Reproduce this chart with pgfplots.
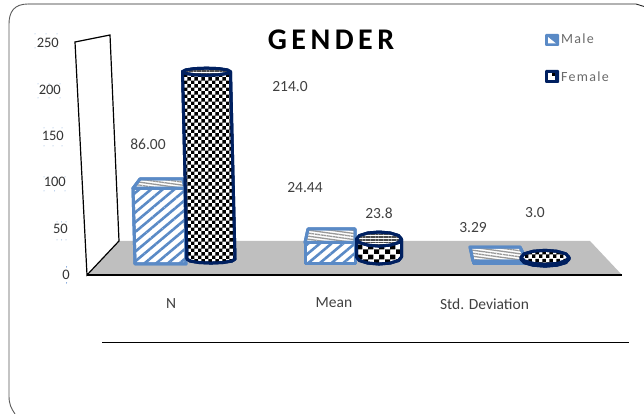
\documentclass[border=0pt]{standalone}
\usepackage{pgfplots}
\pgfplotsset{compat=1.18}
\usepackage{fontspec}
\setmainfont{Carlito}
\newfontfamily\titlefont[LetterSpace=15]{Carlito}
\newfontfamily\legendfont[LetterSpace=9]{Carlito}
\usetikzlibrary{patterns,patterns.meta}

\definecolor{maleblue}{HTML}{5A8AC6}
\definecolor{femalenavy}{HTML}{002060}
\definecolor{floorgray}{HTML}{BFBFBF}
\definecolor{legendgray}{HTML}{6A6A6A}
\definecolor{handleblue}{HTML}{7FA5DA}

% checker textures for the cylinders, fine and coarse
\pgfdeclarepatternformonly{fine check}{\pgfqpoint{0pt}{0pt}}{\pgfqpoint{7.4pt}{7.4pt}}{\pgfqpoint{7.4pt}{7.4pt}}{%
  \pgfpathrectangle{\pgfqpoint{0pt}{0pt}}{\pgfqpoint{3.7pt}{3.7pt}}%
  \pgfpathrectangle{\pgfqpoint{3.7pt}{3.7pt}}{\pgfqpoint{3.7pt}{3.7pt}}%
  \pgfusepath{fill}}
\pgfdeclarepatternformonly{coarse check}{\pgfqpoint{0pt}{0pt}}{\pgfqpoint{11pt}{10pt}}{\pgfqpoint{11pt}{10pt}}{%
  \pgfpathrectangle{\pgfqpoint{0pt}{0pt}}{\pgfqpoint{5.5pt}{5pt}}%
  \pgfpathrectangle{\pgfqpoint{5.5pt}{5pt}}{\pgfqpoint{5.5pt}{5pt}}%
  \pgfusepath{fill}}

\tikzset{
  hatch front/.style={draw=maleblue,line width=3pt,line join=round,
    preaction={fill=white},
    pattern={Lines[angle=40,distance=7.5pt,line width=2.6pt]},pattern color=maleblue},
  hatch top/.style={draw=maleblue,line width=3pt,line join=round,
    preaction={fill=white},
    pattern={Lines[angle=-8,distance=3pt,line width=1.3pt]},pattern color=black!40},
  check body/.style={draw=femalenavy,line width=3pt,line join=round,
    preaction={fill=white},pattern=fine check,pattern color=black},
  check body coarse/.style={check body,pattern=coarse check},
  check lid/.style={draw=femalenavy,line width=3pt,line join=round,
    preaction={fill=white},
    pattern={Lines[angle=0,distance=2.6pt,line width=1.6pt]},pattern color=black!70},
  px/.style={x=1pt,y=-1pt,shift={(0pt,414pt)}},
}
\pgfplotsset{
  flat layer/.style={at={(0pt,0pt)},anchor=south west,scale only axis,
    width=644pt,height=414pt,xmin=0,xmax=644,hide axis,clip=false},
}

\begin{document}
\begin{tikzpicture}[x=1pt,y=1pt]
\path[use as bounding box] (0pt,0pt) rectangle (644pt,414pt);

% rounded outer frame and chart furniture, in picture coordinates
\begin{scope}[px]
  \draw[black!65,line width=0.9pt] (15,414) .. controls (11,408) and (9,404) .. (9,396)
     -- (9,24) .. controls (9,12) and (14,4) .. (28,4);
  \draw[black!85,line width=0.9pt] (28,4) -- (636,4) -- (644,6.5);
  \fill[floorgray] (87,275) -- (119,241) -- (590,241) -- (622,275) -- cycle;
  \draw[black,line width=1.2pt,fill=white,line join=miter]
     (87,275) -- (75,42) -- (110,35) -- (119,241) -- cycle;
  \draw[black,line width=1.2pt] (87,275) -- (622,275);
  \draw[black,line width=0.9pt] (102,342) -- (629,342);
  % selection handles around the tick numbers
  \foreach \l/\r/\t/\b in {35/57/34/48,38/60/84/98,44/62/128/146,44/65/177/191,57/66/222/240,66.5/66.5/267/283}{
    \pgfmathsetmacro\m{(\l+\r)/2}
    \foreach \u in {\l,\m,\r}{
      \fill[handleblue] (\u,\t) circle (0.5);
      \fill[handleblue] (\u,\b) circle (0.5);
    }
  }
\end{scope}

% value axis standing in front of the back wall
\begin{axis}[at={(70pt,139pt)},anchor=south west,scale only axis,width=10pt,height=232pt,
    ymin=0,ymax=250,xmin=0,xmax=1,
    hide x axis,axis y line*=left,y axis line style={draw=none},
    major tick length=0pt,
    ytick={0,50,100,150,200,250},
    yticklabels={0\kern0pt,50\kern2pt,100\kern4pt,150\kern6pt,200\kern9pt,250\kern11pt},
    yticklabel style={font=\fontsize{14.5}{16}\selectfont,text=black!80,inner sep=0pt}]
\addplot[draw=none] coordinates {(0,0) (1,250)};
\end{axis}

% Male: boxes standing on the front edge
\begin{axis}[flat layer,ymin=-170.4545,ymax=300]
\addplot[hatch top] coordinates {(133,86) (185,86) (183,96.6) (140,96.6)} -- cycle;
\addplot[hatch front] coordinates {(135,0) (186,0) (185,86) (133,86)} -- cycle;
\addplot[hatch top] coordinates {(305,24.44) (355,24.44) (355,39.8) (308,39.8)} -- cycle;
\addplot[hatch front] coordinates {(305,0) (355,0) (355,24.44) (305,24.44)} -- cycle;
\addplot[hatch top] coordinates {(473,3.29) (527,3.29) (520,19.3) (470,19.3)} -- cycle;
\addplot[hatch front] coordinates {(473,0) (527,0) (527,3.29) (473,3.29)} -- cycle;
\end{axis}

% Female: cylinders set slightly behind the boxes
\begin{axis}[flat layer,ymin=-175,ymax=295.4545]
\addplot[check body] coordinates {(187,1) (190.2,-1.25) (199,-2.9) (211,-3.5) (223,-2.9) (231.8,-1.25) (235,1) (230.5,214) (182.5,214)} -- cycle;
\addplot[check lid] coordinates {(230.5,214) (227.3,216) (218.5,217.5) (206.5,218) (194.5,217.5) (185.7,216) (182.5,214) (185.7,212) (194.5,210.5) (206.5,210) (218.5,210.5) (227.3,212)} -- cycle;
\addplot[check body coarse] coordinates {(356.5,3.4) (359.5,-0.6) (367.75,-3.5) (379,-4.6) (390.25,-3.5) (398.5,-0.6) (401.5,3.4) (401.5,23.8) (356.5,23.8)} -- cycle;
\addplot[check lid] coordinates {(401.5,23.8) (398.5,27.8) (390.25,30.7) (379,31.8) (367.75,30.7) (359.5,27.8) (356.5,23.8) (359.5,19.8) (367.75,16.9) (379,15.8) (390.25,16.9) (398.5,19.8)} -- cycle;
\addplot[check body] coordinates {(521,1) (524.2,-3) (533,-5.9) (545,-7) (557,-5.9) (565.8,-3) (569,1) (569,3) (521,3)} -- cycle;
\addplot[check body] coordinates {(569,3) (565.8,7) (557,9.9) (545,11) (533,9.9) (524.2,7) (521,3) (524.2,-1) (533,-3.9) (545,-5) (557,-3.9) (565.8,-1)} -- cycle;
\end{axis}

% title, value labels, category names and legend
\begin{scope}[px]
  \node[font=\titlefont\bfseries\fontsize{30}{33}\selectfont] at (331,40) {GENDER};
  \begin{scope}[every node/.style={font=\fontsize{15.5}{17}\selectfont,text=black!75,inner sep=0pt}]
    \node at (148,144) {86.00};
    \node at (290,87) {214.0};
    \node at (305,188) {24.44};
    \node at (379,213) {23.8};
    \node at (473,228) {3.29};
    \node at (535,213) {3.0};
    \node at (171,304) {N};
    \node at (334,303) {Mean};
    \node at (484.5,304) {Std. Deviation};
  \end{scope}
  \fill[maleblue,rounded corners=1pt] (545,34) rectangle (559,46);
  \fill[white] (548,37) -- (556,43.5) -- (548,43.5) -- cycle;
  \fill[femalenavy,rounded corners=1pt] (545,70) rectangle (559,83);
  \fill[white] (548,73) rectangle (555,80);
  \fill[black] (551.5,73) rectangle (555,76.5);
  \node[anchor=west,inner sep=0pt,text=legendgray,font=\legendfont\fontsize{14}{16}\selectfont] at (561,39) {Male};
  \node[anchor=west,inner sep=0pt,text=legendgray,font=\legendfont\fontsize{14}{16}\selectfont] at (561,77) {Female};
\end{scope}
\end{tikzpicture}
\end{document}
